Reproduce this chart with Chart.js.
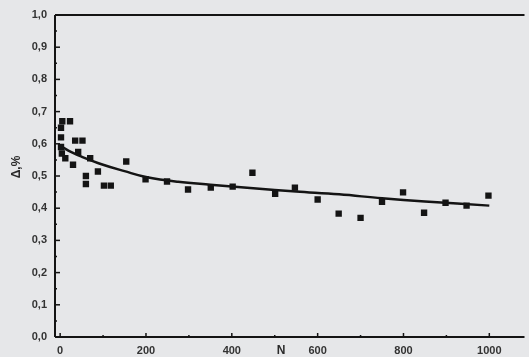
<!DOCTYPE html>
<html>
<head>
<meta charset="utf-8">
<script src="https://cdn.jsdelivr.net/npm/chart.js@4/dist/chart.umd.min.js"></script>
<style>
  html, body { margin: 0; padding: 0; background: #e6e7e9; }
  canvas { display: block; }
</style>
</head>
<body>
<canvas id="chart" width="529" height="357"></canvas>
<script>
// measured points (N, delta %)
const ptN   = [5, 23, 2, 2, 2, 4, 35, 52, 12, 30, 42, 70, 88, 60, 60, 102, 118, 154,
               199, 249, 298, 351, 402, 448, 501, 547, 600, 649, 700, 750, 799, 848, 898, 947, 998];
const ptVal = [0.67, 0.67, 0.65, 0.62, 0.59, 0.57, 0.61, 0.61, 0.555, 0.535, 0.575, 0.555, 0.514, 0.50, 0.475, 0.47, 0.47, 0.545,
               0.49, 0.483, 0.458, 0.464, 0.467, 0.51, 0.445, 0.464, 0.427, 0.383, 0.37, 0.42, 0.449, 0.386, 0.417, 0.408, 0.439];

// fitted curve
const fitN   = [5, 25, 50, 100, 150, 200, 275, 350, 450, 550, 650, 750, 850, 1000];
const fitVal = [0.59, 0.575, 0.56, 0.535, 0.515, 0.497, 0.482, 0.473, 0.462, 0.452, 0.443, 0.431, 0.421, 0.408];

const yTickVals = [0, 0.1, 0.2, 0.3, 0.4, 0.5, 0.6, 0.7, 0.8, 0.9, 1.0];
const xTickVals = [0, 200, 400, 600, 800, 1000];

const ink = '#141414';

const axisDecor = {
    id: 'axisDecor',
    beforeDraw(chart) {
        const c = chart.ctx;
        c.save();
        c.fillStyle = '#e6e7e9';
        c.fillRect(0, 0, chart.width, chart.height);
        c.restore();
    },
    afterDraw(chart) {
        const c = chart.ctx;
        const xs = chart.scales.x, ys = chart.scales.y;
        const a = chart.chartArea;
        c.save();
        c.strokeStyle = ink;
        c.lineWidth = 2;
        c.beginPath();
        c.moveTo(a.left, a.top); c.lineTo(a.right, a.top);
        c.moveTo(a.left, a.top); c.lineTo(a.left, a.bottom);
        c.moveTo(a.left, a.bottom); c.lineTo(a.right, a.bottom);
        c.stroke();
        // inward ticks on y
        c.lineWidth = 1.5;
        for (let i = 0; i <= 20; i++) {
            const py = ys.getPixelForValue(i * 0.05);
            const len = i % 2 === 0 ? 5 : 2;
            c.beginPath(); c.moveTo(a.left, py); c.lineTo(a.left + len, py); c.stroke();
        }
        // inward ticks on x
        for (let n = 0; n <= 1000; n += 100) {
            const px = xs.getPixelForValue(n);
            const len = n % 200 === 0 ? 4 : 2;
            c.beginPath(); c.moveTo(px, a.bottom); c.lineTo(px, a.bottom - len); c.stroke();
        }
        // axis titles
        c.fillStyle = '#2a2a2a';
        c.font = 'bold 12px "Liberation Sans", Arial, sans-serif';
        c.textAlign = 'center';
        c.textBaseline = 'middle';
        c.fillText('N', 281, 351);
        c.translate(17, 167);
        c.rotate(-Math.PI / 2);
        c.fillText('Δ,%', 0, 0);
        c.restore();
    }
};

new Chart(document.getElementById('chart'), {
    type: 'scatter',
    data: {
        datasets: [{
            type: 'line',
            data: fitN.map((n, i) => ({ x: n, y: fitVal[i] })),
            borderColor: ink,
            borderWidth: 2.5,
            pointRadius: 0,
            tension: 0.4,
            fill: false
        }, {
            data: ptN.map((n, i) => ({ x: n, y: ptVal[i] })),
            pointStyle: 'rect',
            pointRadius: 4.5,
            backgroundColor: ink,
            borderColor: ink,
            borderWidth: 0
        }]
    },
    options: {
        responsive: false,
        animation: false,
        layout: { padding: { top: 15, right: 0, left: 0, bottom: 0 } },
        plugins: { legend: { display: false }, tooltip: { enabled: false } },
        scales: {
            x: {
                type: 'linear',
                min: -12,
                max: 1082,
                afterBuildTicks: (s) => { s.ticks = xTickVals.map(v => ({ value: v })); },
                afterFit: (s) => { s.height = 20; },
                grid: { display: false, drawTicks: false },
                border: { display: false },
                ticks: {
                    color: '#333',
                    font: { family: '"Liberation Sans", Arial, sans-serif', size: 11, weight: 'bold' },
                    padding: 7,
                    maxRotation: 0,
                    callback: (v) => String(v)
                }
            },
            y: {
                min: 0,
                max: 1.0,
                afterBuildTicks: (s) => { s.ticks = yTickVals.map(v => ({ value: v })); },
                afterFit: (s) => { s.width = 55; },
                grid: { display: false, drawTicks: false },
                border: { display: false },
                ticks: {
                    color: '#333',
                    font: { family: '"Liberation Sans", Arial, sans-serif', size: 11, weight: 'bold' },
                    padding: 8,
                    callback: (v) => v.toFixed(1).replace('.', ',')
                }
            }
        }
    },
    plugins: [axisDecor]
});
</script>
</body>
</html>
